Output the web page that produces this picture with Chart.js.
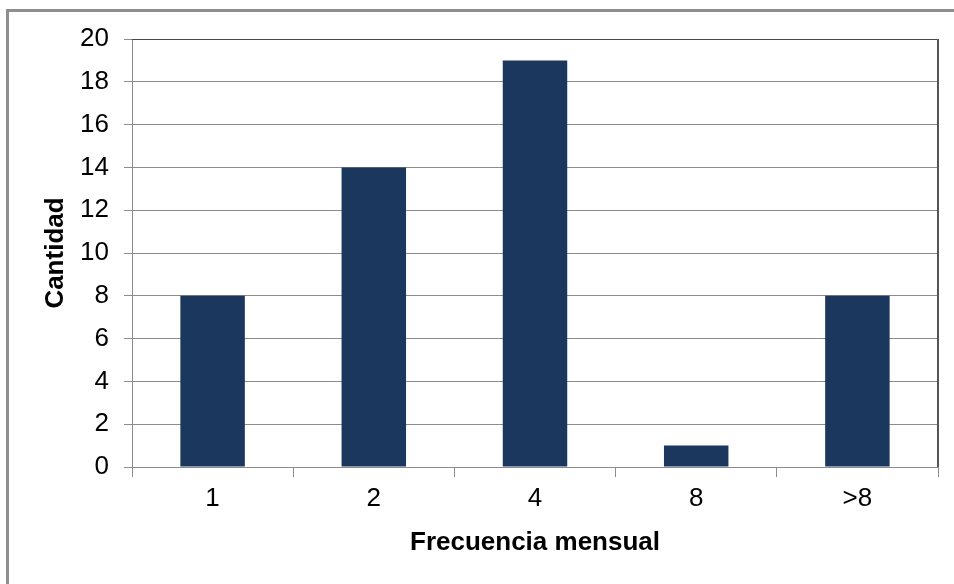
<!DOCTYPE html>
<html>
<head>
<meta charset="utf-8">
<script src="https://cdn.jsdelivr.net/npm/chart.js@4/dist/chart.umd.min.js"></script>
<style>
  html, body { margin: 0; padding: 0; background: #fff; overflow: hidden; }
  #wrap { position: relative; width: 954px; height: 584px; }
  #frame {
    position: absolute; left: 6px; top: 9px;
    width: 1200px; height: 900px;
    border: 3px solid #8e8e8e;
  }
  #chart { position: absolute; left: 0; top: 0; }
</style>
</head>
<body>
<div id="wrap">
  <div id="frame"></div>
  <canvas id="chart" width="954" height="584"></canvas>
</div>
<script>
const categories = ["1", "2", "4", "8", ">8"];
const cantidad = [8, 14, 19, 1, 8];
const yTicks = [0, 2, 4, 6, 8, 10, 12, 14, 16, 18, 20];

const gridGray = "#8c8c8c";
const barColor = "#1b375e";

// darker top and right edges of the plot area
const plotBorder = {
  id: "plotBorder",
  afterDraw(chart) {
    const { ctx, chartArea } = chart;
    ctx.save();
    ctx.strokeStyle = "#4a4a4a";
    ctx.lineWidth = 1;
    ctx.beginPath();
    ctx.moveTo(chartArea.left, chartArea.top + 0.5);
    ctx.lineTo(chartArea.right, chartArea.top + 0.5);
    ctx.stroke();
    ctx.lineWidth = 2;
    ctx.strokeStyle = "#555";
    ctx.beginPath();
    ctx.moveTo(chartArea.right, chartArea.top);
    ctx.lineTo(chartArea.right, chartArea.bottom);
    ctx.stroke();
    ctx.restore();
  },
};

new Chart(document.getElementById("chart"), {
  type: "bar",
  data: {
    labels: categories,
    datasets: [
      {
        data: cantidad,
        backgroundColor: barColor,
        barPercentage: 0.4,
        categoryPercentage: 1,
      },
    ],
  },
  options: {
    responsive: false,
    animation: false,
    layout: { padding: { top: 39, right: 16, left: 0, bottom: 0 } },
    plugins: { legend: { display: false }, tooltip: { enabled: false } },
    scales: {
      x: {
        grid: {
          offset: true,
          drawOnChartArea: false,
          color: gridGray,
          tickLength: 10,
        },
        border: { color: gridGray },
        ticks: {
          color: "#000",
          padding: 6,
          font: { family: "Liberation Sans, Arial, sans-serif", size: 26 },
        },
        title: {
          display: true,
          text: "Frecuencia mensual",
          color: "#000",
          padding: { top: 0, bottom: 26 },
          font: { family: "Liberation Sans, Arial, sans-serif", size: 26, weight: "bold" },
        },
        afterFit(scale) {
          scale.height = 117;
        },
      },
      y: {
        min: 0,
        max: 20,
        afterBuildTicks(scale) {
          scale.ticks = yTicks.map((v) => ({ value: v }));
        },
        grid: { color: gridGray, tickLength: 8 },
        border: { color: gridGray },
        ticks: {
          color: "#000",
          padding: 15,
          font: { family: "Liberation Sans, Arial, sans-serif", size: 26 },
        },
        title: {
          display: true,
          text: "Cantidad",
          color: "#000",
          padding: { top: 40, bottom: 0 },
          font: { family: "Liberation Sans, Arial, sans-serif", size: 26, weight: "bold" },
        },
        afterFit(scale) {
          scale.width = 132;
        },
      },
    },
  },
  plugins: [plotBorder],
});
</script>
</body>
</html>
